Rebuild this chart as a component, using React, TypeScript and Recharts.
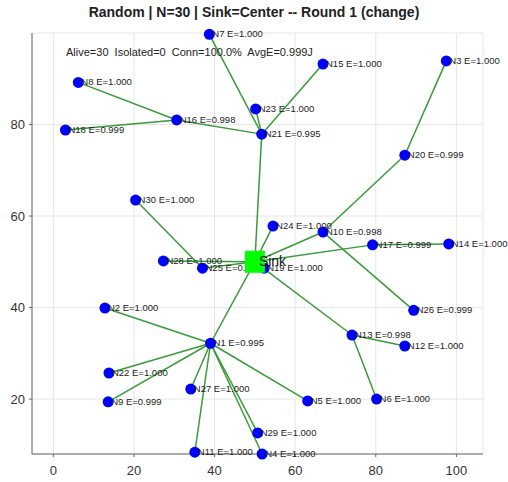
import React from 'react';
import { ScatterChart, Scatter, XAxis, YAxis, CartesianGrid, ReferenceLine } from 'recharts';

// node table (index 0 = N1)
const nodeNames = Array.from({ length: 30 }, (_, i) => `N${i + 1}`);
const nodeX = [39.0, 12.8, 97.5, 51.8, 63.1, 80.2, 38.7, 6.2, 13.6, 66.9, 35.1, 87.2, 74.1, 98.1, 66.9, 30.6, 79.2, 3.0, 52.3, 87.2, 51.7, 13.8, 50.2, 54.5, 37.0, 89.4, 34.1, 27.3, 50.7, 20.4];
const nodeY = [32.2, 39.9, 93.9, 8.0, 19.6, 20.0, 99.7, 89.2, 19.4, 56.5, 8.4, 31.6, 34.0, 53.9, 93.2, 81.0, 53.7, 78.8, 48.6, 73.3, 77.9, 25.7, 83.4, 57.8, 48.6, 39.4, 22.2, 50.2, 12.6, 63.5];
const nodeEnergy = [0.995, 1.0, 1.0, 1.0, 1.0, 1.0, 1.0, 1.0, 0.999, 0.998, 1.0, 1.0, 0.998, 1.0, 1.0, 0.998, 0.999, 0.999, 1.0, 0.999, 0.995, 1.0, 1.0, 1.0, 0.999, 0.999, 1.0, 1.0, 1.0, 1.0];
// next hop: 'Sink' or node name
const nodeParent = ['Sink', 'N1', 'N20', 'N1', 'N1', 'N13', 'N21', 'N16', 'N1', 'Sink', 'N1', 'N13', 'Sink', 'N17', 'N21', 'N21', 'Sink', 'N16', 'Sink', 'N10', 'Sink', 'N1', 'N21', 'Sink', 'Sink', 'N10', 'N1', 'Sink', 'N1', 'N25'];

const sinkPos = { x: 50, y: 50 };
const xTicks = [0, 20, 40, 60, 80, 100];
const yTicks = [20, 40, 60, 80];

const FONT = '"Liberation Sans", Arial, sans-serif';

const nodes = nodeNames.map((name, i) => ({ name, x: nodeX[i], y: nodeY[i], e: nodeEnergy[i] }));

const lookup = (name: string) => {
  if (name === 'Sink') return sinkPos;
  const i = nodeNames.indexOf(name);
  return { x: nodeX[i], y: nodeY[i] };
};

const edges = nodes.map((n, i) => [{ x: n.x, y: n.y }, lookup(nodeParent[i])]);

const NodeShape = (props: any) => {
  const { cx, cy, payload } = props;
  return (
    <g>
      <circle cx={cx} cy={cy} r={5.5} fill="#0000ff" />
      <text x={cx + 3} y={cy + 3} fontSize={9.5} fontFamily={FONT} fill="#222">
        {`${payload.name} E=${payload.e.toFixed(3)}`}
      </text>
    </g>
  );
};

const SinkShape = (props: any) => {
  const { cx, cy } = props;
  return (
    <g>
      <rect x={cx - 10} y={cy - 11} width={20} height={22} fill="#00ff00" />
      <text x={cx + 4} y={cy + 4} fontSize={14} fontWeight={500} fontFamily={FONT} fill="#111">Sink</text>
    </g>
  );
};

export default function App() {
  return (
    <div style={{ position: 'absolute', left: 0, top: 0, width: 508, height: 482, background: '#fff', fontFamily: FONT }}>
      <div style={{ position: 'absolute', top: 4, width: 508, textAlign: 'center', fontSize: 14, fontWeight: 'bold', color: '#222' }}>
        Random | N=30 | Sink=Center -- Round 1 (change)
      </div>
      <ScatterChart width={508} height={482} margin={{ top: 33, right: 25, bottom: 0, left: 2 }}>
        <CartesianGrid stroke="#e6e6e6" />
        <XAxis
          type="number"
          dataKey="x"
          domain={[-5.3, 106.6]}
          ticks={xTicks}
          height={28}
          stroke="#666"
          tickSize={3}
          tickMargin={9}
          tick={{ fill: '#333', fontSize: 13, fontFamily: FONT }}
        />
        <YAxis
          type="number"
          dataKey="y"
          domain={[8, 100]}
          ticks={yTicks}
          width={30}
          stroke="#666"
          tickSize={3}
          tickMargin={4}
          tick={{ fill: '#333', fontSize: 13, fontFamily: FONT }}
        />
        {edges.map((seg, i) => (
          <ReferenceLine key={i} segment={seg} stroke="#3a9a3a" strokeWidth={1.5} ifOverflow="visible" />
        ))}
        <Scatter data={nodes} shape={NodeShape} isAnimationActive={false} />
        <Scatter data={[sinkPos]} shape={SinkShape} isAnimationActive={false} />
      </ScatterChart>
      <div style={{ position: 'absolute', left: 66, top: 46, fontSize: 11, color: '#222', whiteSpace: 'pre' }}>
        {'Alive=30  Isolated=0  Conn=100.0%  AvgE=0.999J'}
      </div>
    </div>
  );
}
